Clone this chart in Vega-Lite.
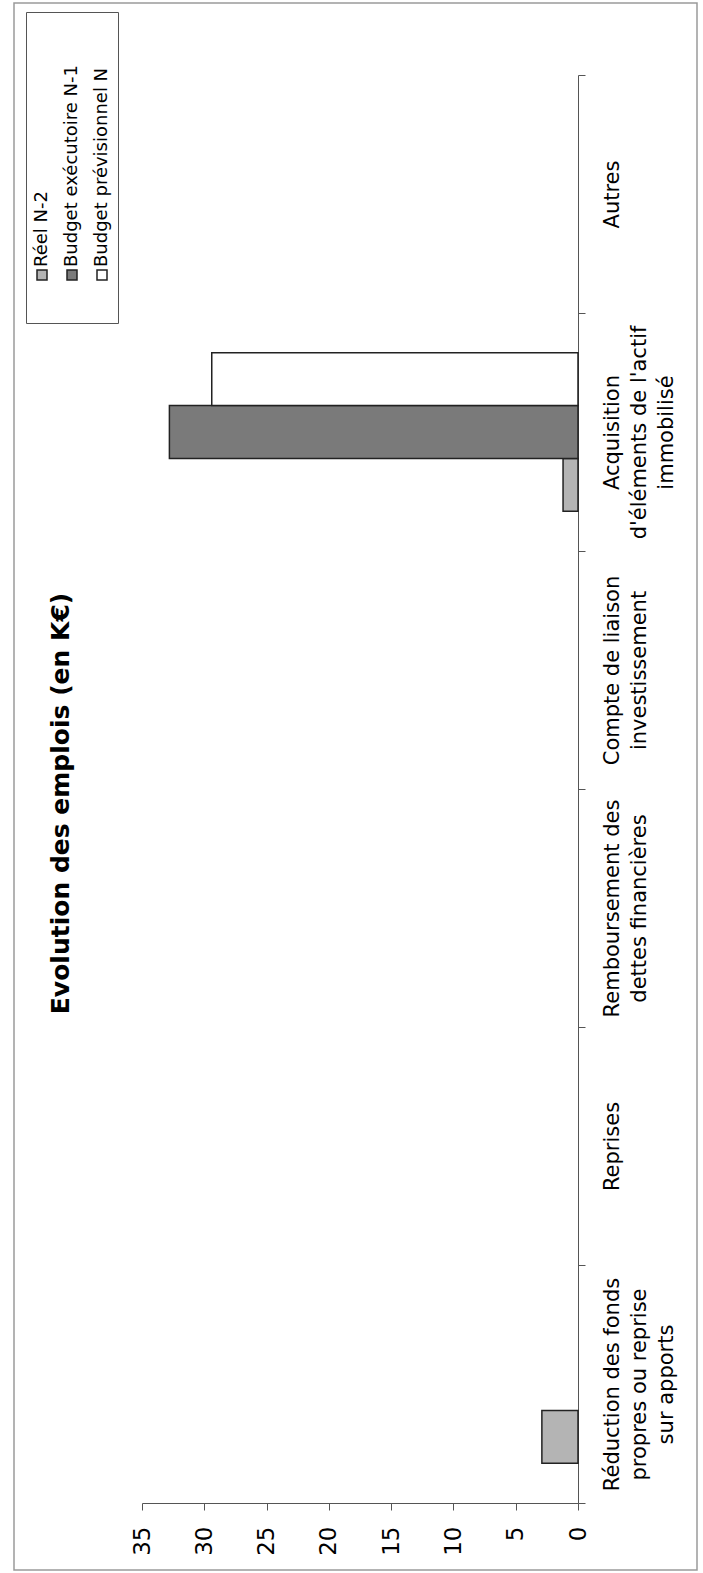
{
  "$schema": "https://vega.github.io/schema/vega-lite/v6.json",
  "autosize": "none",
  "width": 683,
  "height": 1567,
  "padding": {"left": 14, "top": 3, "right": 6, "bottom": 3},
  "background": "white",
  "config": {
    "font": "DejaVu Sans",
    "view": {"stroke": "#9a9a9a", "strokeWidth": 1.5}
  },
  "title": {
    "text": "Evolution des emplois (en K€)",
    "orient": "left",
    "anchor": "middle",
    "frame": "group",
    "offset": -60,
    "dx": -17,
    "font": "DejaVu Sans",
    "fontSize": 25,
    "fontWeight": "bold",
    "color": "#000000"
  },
  "data": {
    "values": [
      {"categorie": "Réduction des fonds propres ou reprise sur apports", "serie": "Réel N-2", "valeur": 2.9},
      {"categorie": "Réduction des fonds propres ou reprise sur apports", "serie": "Budget exécutoire N-1", "valeur": 0},
      {"categorie": "Réduction des fonds propres ou reprise sur apports", "serie": "Budget prévisionnel N", "valeur": 0},
      {"categorie": "Reprises", "serie": "Réel N-2", "valeur": 0},
      {"categorie": "Reprises", "serie": "Budget exécutoire N-1", "valeur": 0},
      {"categorie": "Reprises", "serie": "Budget prévisionnel N", "valeur": 0},
      {"categorie": "Remboursement des dettes financières", "serie": "Réel N-2", "valeur": 0},
      {"categorie": "Remboursement des dettes financières", "serie": "Budget exécutoire N-1", "valeur": 0},
      {"categorie": "Remboursement des dettes financières", "serie": "Budget prévisionnel N", "valeur": 0},
      {"categorie": "Compte de liaison investissement", "serie": "Réel N-2", "valeur": 0},
      {"categorie": "Compte de liaison investissement", "serie": "Budget exécutoire N-1", "valeur": 0},
      {"categorie": "Compte de liaison investissement", "serie": "Budget prévisionnel N", "valeur": 0},
      {"categorie": "Acquisition d'éléments de l'actif immobilisé", "serie": "Réel N-2", "valeur": 1.2},
      {"categorie": "Acquisition d'éléments de l'actif immobilisé", "serie": "Budget exécutoire N-1", "valeur": 32.8},
      {"categorie": "Acquisition d'éléments de l'actif immobilisé", "serie": "Budget prévisionnel N", "valeur": 29.4},
      {"categorie": "Autres", "serie": "Réel N-2", "valeur": 0},
      {"categorie": "Autres", "serie": "Budget exécutoire N-1", "valeur": 0},
      {"categorie": "Autres", "serie": "Budget prévisionnel N", "valeur": 0}
    ]
  },
  "mark": {"type": "bar", "stroke": "#222222"},
  "encoding": {
    "y": {
      "field": "categorie",
      "type": "nominal",
      "scale": {
        "domain": [
          "Autres",
          "Acquisition d'éléments de l'actif immobilisé",
          "Compte de liaison investissement",
          "Remboursement des dettes financières",
          "Reprises",
          "Réduction des fonds propres ou reprise sur apports"
        ],
        "range": [72, 1500],
        "paddingInner": 0,
        "paddingOuter": 0
      },
      "axis": {
        "orient": "right",
        "offset": -119,
        "title": null,
        "grid": false,
        "tickBand": "extent",
        "tickSize": 7,
        "tickColor": "#555555",
        "domainColor": "#555555",
        "labelAngle": -90,
        "labelAlign": "center",
        "labelBaseline": "top",
        "labelFontSize": 21,
        "labelLineHeight": 27,
        "labelPadding": 16,
        "labelColor": "#000000",
        "labelLimit": 0,
        "labelExpr": "datum.value == 'Réduction des fonds propres ou reprise sur apports' ? ['Réduction des fonds', 'propres ou reprise', 'sur apports'] : datum.value == 'Remboursement des dettes financières' ? ['Remboursement des', 'dettes financières'] : datum.value == 'Compte de liaison investissement' ? ['Compte de liaison', 'investissement'] : datum.value == \"Acquisition d'éléments de l'actif immobilisé\" ? ['Acquisition', \"d'éléments de l'actif\", 'immobilisé'] : datum.value"
      }
    },
    "yOffset": {
      "field": "serie",
      "type": "nominal",
      "scale": {
        "domain": ["Budget prévisionnel N", "Budget exécutoire N-1", "Réel N-2"],
        "paddingInner": 0,
        "paddingOuter": 0.75
      }
    },
    "x": {
      "field": "valeur",
      "type": "quantitative",
      "scale": {"domain": [0, 35], "range": [564, 128], "nice": false},
      "axis": {
        "orient": "bottom",
        "offset": -67,
        "title": null,
        "grid": false,
        "values": [0, 5, 10, 15, 20, 25, 30, 35],
        "tickSize": 7,
        "tickColor": "#555555",
        "domainColor": "#555555",
        "labelAngle": -90,
        "labelAlign": "right",
        "labelBaseline": "middle",
        "labelFontSize": 23,
        "labelPadding": 16,
        "labelColor": "#000000",
        "labelFlush": false,
        "labelOverlap": false
      }
    },
    "fill": {
      "field": "serie",
      "type": "nominal",
      "scale": {
        "domain": ["Réel N-2", "Budget exécutoire N-1", "Budget prévisionnel N"],
        "range": ["#b4b4b4", "#7a7a7a", "#ffffff"]
      },
      "legend": {
        "title": null,
        "orient": "none",
        "legendX": 12,
        "legendY": 9,
        "direction": "horizontal",
        "columns": 3,
        "columnPadding": 12,
        "padding": 7,
        "strokeColor": "#555555",
        "fillColor": "#ffffff",
        "labelFont": "DejaVu Sans",
        "labelFontSize": 18,
        "labelColor": "#000000",
        "labelLimit": 400,
        "symbolType": "square",
        "symbolSize": 100,
        "symbolStrokeColor": "#222222",
        "symbolStrokeWidth": 1.5,
        "encoding": {
          "entries": {"height": {"value": 297}, "noBound": {"value": false}},
          "symbols": {"x": {"value": 9}, "y": {"value": 256}},
          "labels": {
            "angle": {"value": -90},
            "align": {"value": "left"},
            "baseline": {"value": "middle"},
            "x": {"value": 9},
            "y": {"value": 248}
          }
        }
      }
    },
    "strokeWidth": {
      "condition": {"test": "datum.valeur > 0", "value": 1.5},
      "value": 0
    }
  }
}
